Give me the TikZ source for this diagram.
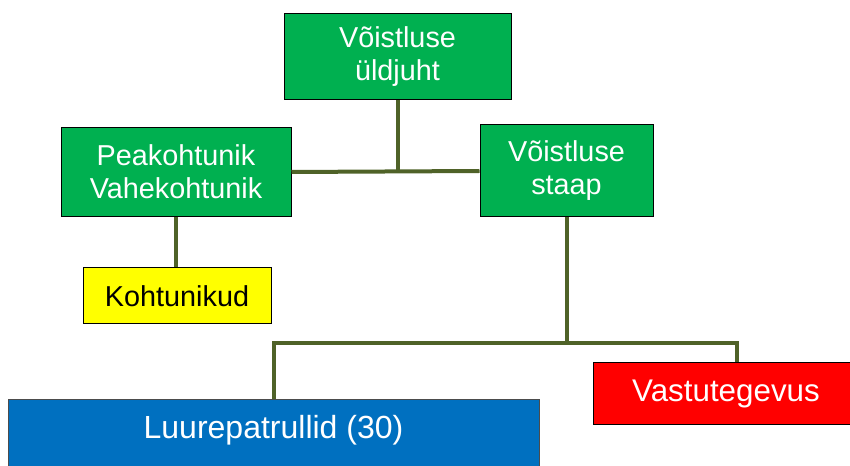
\documentclass[tikz,border=0pt]{standalone}
\usepackage{fontspec}
\setmainfont{Liberation Sans}
\definecolor{boxgreen}{HTML}{00B050}
\definecolor{boxyellow}{HTML}{FFFF00}
\definecolor{boxred}{HTML}{FF0000}
\definecolor{boxblue}{HTML}{0070C0}
\definecolor{linkolive}{HTML}{4F6228}
\tikzset{
  orgbox/.style={draw=black, line width=0.75pt, inner sep=0pt, align=center, font=\fontsize{21.6}{24.8}\selectfont},
  greenbox/.style={orgbox, fill=boxgreen, text=white},
  link/.style={draw=linkolive, line width=3pt}
}
\begin{document}
\begin{tikzpicture}[x=0.75pt, y=-0.75pt]
		\clip (0,0) rectangle (850,466); % page frame

		\node[greenbox, minimum width=170.25pt, minimum height=64.5pt] (juht) at (397.5,57) {Võistluse\\üldjuht}; % top box
		\node[greenbox, minimum width=172.5pt, minimum height=66.75pt] (pea) at (176,172) {Peakohtunik\\Vahekohtunik}; % judges
		\node[greenbox, minimum width=129.75pt, minimum height=69pt] (staap) at (566.5,171) {Võistluse\\staap}; % staff
		\node[orgbox, fill=boxyellow, minimum width=141pt, minimum height=42pt] (kohtu) at (177,296) {Kohtunikud}; % referees
		\node[orgbox, fill=boxred, text=white, font=\fontsize{23.5}{27}\selectfont, minimum width=199.5pt, minimum height=46.5pt] (vastu) at (726,394) {Vastutegevus}; % opposition
		\node[draw=black!70, line width=0.75pt, inner sep=0pt, fill=boxblue, text=white, font=\fontsize{24}{28}\selectfont, anchor=north, minimum width=398.25pt, text height=29.25pt, text depth=60pt] (luure) at (273.5,399) {Luurepatrullid (30)}; % patrols

		\coordinate (jaotus) at (566.5,343); % split point below staff
		\coordinate (vasak) at (luure.north |- jaotus);
		\coordinate (parem) at (737,343);

		\draw[link] (pea.east) -- (staap.west); % upper bar
		\draw[link] (juht.south) -- (juht.south |- pea.east);
		\draw[link] (pea.south) -- (pea.south |- kohtu.north);
		\draw[link] (staap.south) -- (jaotus);
		\draw[link] (luure.north) -- (vasak) -- (parem) -- (parem |- vastu.north); % lower bar
	\end{tikzpicture}
\end{document}
